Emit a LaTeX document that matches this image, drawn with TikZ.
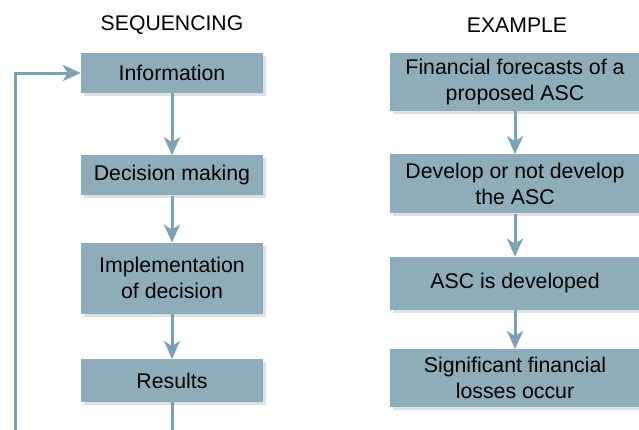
\documentclass[tikz,border=0pt]{standalone}
\usepackage{fontspec}
\setmainfont{Liberation Sans}
\usepackage{tikz}
\usetikzlibrary{arrows.meta,positioning,shadows}
\definecolor{stepfill}{HTML}{8FACBB}
\definecolor{steparrow}{HTML}{7DA2B5}
\definecolor{stepshade}{HTML}{DCE1E5}

\begin{document}
\begin{tikzpicture}[
    x=1pt, y=1pt,
    font=\fontsize{21.3}{26}\selectfont,
    stepbox/.style={fill=stepfill, inner sep=0pt, align=center,
        drop shadow={shadow xshift=3pt, shadow yshift=-3pt, fill=stepshade, opacity=1}},
    leftbox/.style={stepbox, minimum width=182pt},
    rightbox/.style={stepbox, minimum width=250pt},
    arrow/.style={-{Stealth[length=18pt, width=16pt, inset=5pt]}, line width=3pt, draw=steparrow},
    heading/.style={font=\fontsize{21.2}{25}\selectfont}
]
\clip (0,0) rectangle (639,-429);

\node[heading] (seqtitle) at (172,-25) {SEQUENCING};
\node[heading] (extitle) at (517,-25) {EXAMPLE};

% general sequence
\node[leftbox, minimum height=40pt] (info) at (172,-73) {Information};
\node[leftbox, minimum height=40pt, below=62pt of info] (decide) {Decision making};
\node[leftbox, minimum height=71pt, below=47pt of decide] (impl) {Implementation\\of decision};
\node[leftbox, minimum height=43pt, below=45pt of impl] (results) {Results};

% ASC case
\node[rightbox, minimum height=58pt] (forecast) at (515,-82) {Financial forecasts of a\\proposed ASC};
\node[rightbox, minimum height=59pt, below=43pt of forecast] (develop) {Develop or not develop\\the ASC};
\node[rightbox, minimum height=53pt, below=43pt of develop] (built) {ASC is developed};
\node[rightbox, minimum height=58pt, below=39pt of built] (losses) {Significant financial\\losses occur};

\draw[arrow] (info) -- (decide);
\draw[arrow] (decide) -- (impl);
\draw[arrow] (impl) -- (results);

\draw[arrow] (forecast) -- (develop);
\draw[arrow] (develop) -- (built);
\draw[arrow] (built) -- (losses);

% feedback loop back to information
\coordinate (loop) at (15,-445);
\draw[arrow] (results.south) |- (loop) |- (info.west);
\end{tikzpicture}
\end{document}
